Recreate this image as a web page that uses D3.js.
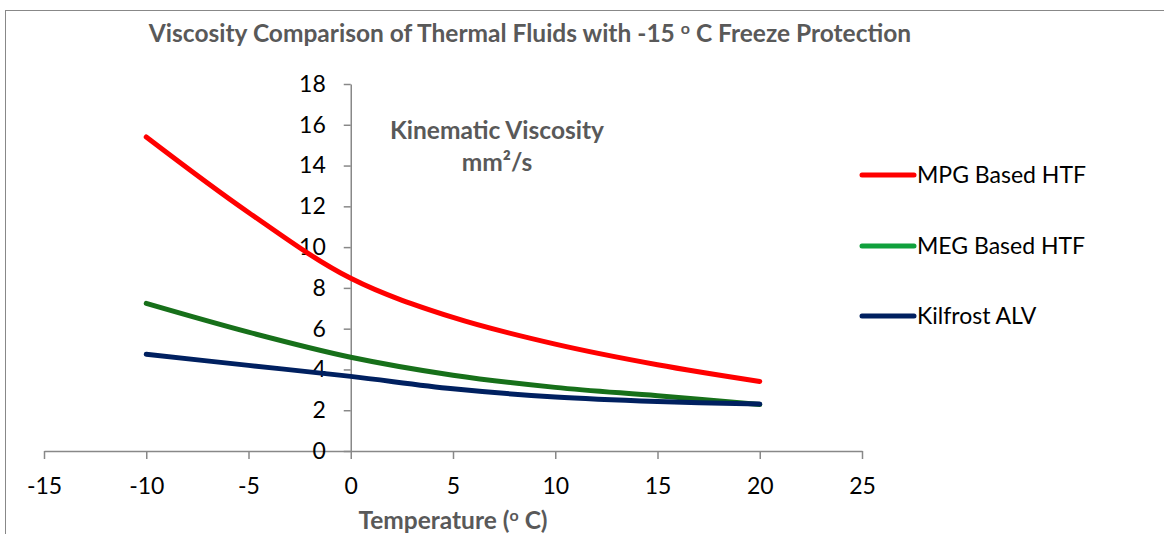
<!DOCTYPE html>
<html><head><meta charset="utf-8">
<script src="https://cdn.jsdelivr.net/npm/d3@7"></script>
<style>body{margin:0;background:#fff}svg{display:block}text{font-family:Lato,"Open Sans",sans-serif}</style>
</head><body><svg id="c" width="1164" height="534"></svg>
<script>
const temps = [-10, -5, 0, 5, 10, 15, 20];
const mpg = [15.4, 11.7, 8.47, 6.55, 5.24, 4.23, 3.41];
const meg = [7.24, 5.83, 4.6, 3.72, 3.12, 2.71, 2.28];
const kil = [4.74, 4.2, 3.66, 3.05, 2.65, 2.43, 2.3];
const seriesNames = ["MPG Based HTF", "MEG Based HTF", "Kilfrost ALV"];
const xTicks = [-15, -10, -5, 0, 5, 10, 15, 20, 25];
const yTicks = [0, 2, 4, 6, 8, 10, 12, 14, 16, 18];

const svg = d3.select("#c");
const axisCol = "#888888";
const titleCol = "#595959";
const lineCols = ["#ff0000", "#17701a", "#002060"];
const legCols = ["#ff0000", "#10a03c", "#002060"];
const tickFont = "23px";
const boldFont = "24.5px";

svg.append("rect").attr("x", 5.5).attr("y", 10.5).attr("width", 1300).attr("height", 700)
  .attr("fill", "none").attr("stroke", axisCol).attr("stroke-width", 1);

const x = d3.scaleLinear().domain([-15, 25]).range([44, 862]);
const y = d3.scaleLinear().domain([0, 18]).range([451, 84]);

// x axis
const gx = svg.append("g").attr("transform", `translate(0,${y(0)})`)
  .call(d3.axisBottom(x).tickValues(xTicks).tickFormat(d => String(d)).tickSize(8).tickSizeOuter(0).tickPadding(19));
gx.select(".domain").attr("stroke", axisCol).attr("stroke-width", 1.5);
gx.selectAll(".tick line").attr("stroke", axisCol).attr("stroke-width", 1.5);
gx.selectAll(".tick text").attr("fill", "#000").style("font-size", tickFont).style("font-family", "Lato");

// y axis
const gy = svg.append("g").attr("transform", `translate(${x(0)},0)`)
  .call(d3.axisLeft(y).tickValues(yTicks).tickFormat(d => String(d)).tickSize(7).tickSizeOuter(0).tickPadding(18));
gy.select(".domain").attr("stroke", axisCol).attr("stroke-width", 1.5);
gy.selectAll(".tick line").attr("stroke", axisCol).attr("stroke-width", 1.5);
gy.selectAll(".tick text").attr("fill", "#000").style("font-size", tickFont).style("font-family", "Lato");

// lines
const data = [mpg, meg, kil];
const line = d3.line().x((d, i) => x(temps[i])).y(d => y(d)).curve(d3.curveCatmullRom.alpha(0.5));
data.forEach((s, k) => {
  svg.append("path").datum(s).attr("d", line).attr("fill", "none")
    .attr("stroke", lineCols[k]).attr("stroke-width", 5).attr("stroke-linecap", "round").attr("stroke-linejoin", "round");
});

// title
const t = svg.append("text").attr("x", 530).attr("y", 42).attr("text-anchor", "middle")
  .attr("fill", titleCol).style("font-weight", "bold").style("font-size", boldFont);
t.append("tspan").text("Viscosity Comparison of Thermal Fluids with -15 ");
t.append("tspan").text("o").style("font-size", "16px").attr("dy", -8);
t.append("tspan").text(" C Freeze Protection").attr("dy", 8);

// y title
svg.append("text").attr("x", 497).attr("y", 139).attr("text-anchor", "middle")
  .attr("fill", titleCol).style("font-weight", "bold").style("font-size", boldFont).text("Kinematic Viscosity");
svg.append("text").attr("x", 497).attr("y", 171).attr("text-anchor", "middle")
  .attr("fill", titleCol).style("font-weight", "bold").style("font-size", boldFont).text("mm²/s");

// x title
const xt = svg.append("text").attr("x", 453).attr("y", 529).attr("text-anchor", "middle")
  .attr("fill", titleCol).style("font-weight", "bold").style("font-size", boldFont);
xt.append("tspan").text("Temperature (");
xt.append("tspan").text("o").style("font-size", "16px").attr("dy", -8);
xt.append("tspan").text(" C)").attr("dy", 8);

// legend
const legY = [175, 246, 316];
seriesNames.forEach((n, k) => {
  svg.append("line").attr("x1", 862).attr("x2", 914).attr("y1", legY[k]).attr("y2", legY[k])
    .attr("stroke", legCols[k]).attr("stroke-width", 5).attr("stroke-linecap", "round");
  svg.append("text").attr("x", 917).attr("y", legY[k] + 8).attr("fill", "#000")
    .style("font-size", tickFont).text(n);
});
</script></body></html>
